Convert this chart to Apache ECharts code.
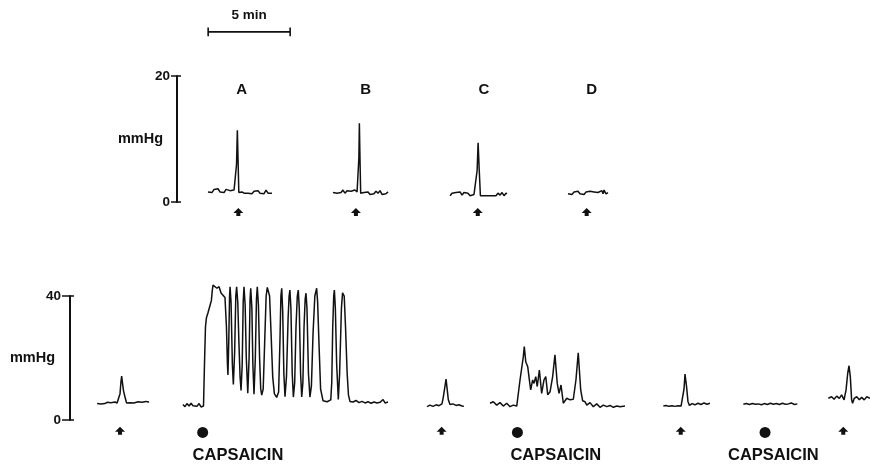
<!DOCTYPE html>
<html>
<head>
<meta charset="utf-8">
<script src="https://cdn.jsdelivr.net/npm/echarts@6/dist/echarts.min.js"></script>
<style>
html,body{margin:0;padding:0;background:#fff;}
#chart{width:870px;height:466px;}
</style>
</head>
<body>
<div id="chart"></div>
<script>
// ---------- DATA (time in minutes, pressure in mmHg) ----------
// Top panel: responses A-D (0-20 mmHg)
const traceA = [[1.89,1.6],[2.01,1.9],[2.13,1.5],[2.26,2.0],[2.38,1.7],[2.50,2.1],[2.62,1.6],[2.74,1.9],[2.87,1.5],[2.99,2.0],[3.11,1.7],[3.23,1.8],[3.35,1.5],[3.48,1.9],[3.57,1.7],[3.63,6.0],[3.68,11.4],[3.72,7.0],[3.77,1.5],[3.84,1.3],[3.96,1.6],[4.09,1.4],[4.21,1.7],[4.33,1.4],[4.45,1.6],[4.57,1.3],[4.70,1.7],[4.82,1.4],[4.94,1.8],[5.06,1.4],[5.18,1.6],[5.30,1.3],[5.43,1.9],[5.55,1.4],[5.67,1.7],[5.79,1.4]];
const traceB = [[9.51,1.5],[9.63,1.8],[9.76,1.4],[9.88,1.7],[10.00,1.5],[10.12,1.9],[10.24,1.4],[10.37,1.8],[10.49,1.5],[10.61,1.7],[10.73,1.4],[10.85,1.9],[10.98,1.6],[11.05,1.8],[11.09,7.0],[11.12,12.5],[11.16,6.5],[11.20,1.4],[11.28,1.2],[11.40,1.5],[11.52,1.3],[11.65,1.6],[11.77,1.2],[11.89,1.5],[12.01,1.3],[12.13,1.7],[12.26,1.4],[12.38,1.8],[12.50,1.2],[12.62,1.5],[12.74,1.3],[12.87,1.6]];
const traceC = [[16.65,1.0],[16.77,1.4],[16.89,1.1],[17.01,1.5],[17.13,1.2],[17.26,1.6],[17.38,1.1],[17.50,1.5],[17.62,1.2],[17.74,1.4],[17.87,1.0],[17.99,1.3],[18.11,1.2],[18.21,1.3],[18.30,5.0],[18.36,9.4],[18.43,5.0],[18.50,1.0],[18.60,1.1],[18.72,1.0],[18.84,1.1],[18.96,1.0],[19.08,1.2],[19.21,1.0],[19.33,1.3],[19.45,1.0],[19.57,1.4],[19.70,1.1],[19.82,1.5],[19.94,1.0],[20.06,1.4],[20.12,1.3]];
const traceD = [[23.84,1.3],[23.96,1.6],[24.08,1.2],[24.21,1.6],[24.33,1.3],[24.45,1.7],[24.57,1.3],[24.69,1.6],[24.82,1.2],[24.94,1.6],[25.06,1.3],[25.18,1.7],[25.30,1.4],[25.43,1.6],[25.55,1.3],[25.67,1.5],[25.79,1.4],[25.91,1.8],[25.98,1.3],[26.04,1.9],[26.16,1.3],[26.28,1.5]];
const topLetters = ['A','B','C','D'];
const topLetterX = [3.95, 11.51, 18.72, 25.29];
const topLetterY = 17.8;
const topArrowX = [3.74, 10.91, 18.34, 24.98];
const topArrowY = -1.6;
const scaleBarStart = 1.9;   // min
const scaleBarLength = 5;    // min
const scaleBarY = 27.0;      // mmHg (drawn above the top axis)
const scaleBarCap = 0.7;
const scaleBarText = '5 min';
const scaleTextY = 29.7;

// Bottom panel (0-40 mmHg)
const trace1 = [[1.65,5.3],[1.77,5.6],[1.89,5.2],[2.01,5.5],[2.13,5.3],[2.26,5.7],[2.38,5.4],[2.50,5.6],[2.62,5.4],[2.74,5.8],[2.87,5.5],[2.99,6.0],[3.05,8.5],[3.11,12.5],[3.15,14.2],[3.20,12.0],[3.26,9.5],[3.35,7.5],[3.45,5.5],[3.54,5.2],[3.66,5.6],[3.78,5.1],[3.90,5.5],[4.02,5.3],[4.15,5.9],[4.27,5.4],[4.39,5.7],[4.51,5.5],[4.63,6.0],[4.76,5.8],[4.82,5.9]];
const trace2 = [[6.89,5.0],[7.01,4.3],[7.13,5.3],[7.26,4.5],[7.38,5.4],[7.50,4.6],[7.62,5.2],[7.74,4.4],[7.87,5.3],[7.99,4.2],[8.14,4.5],
 [8.20,18],[8.26,30],[8.32,33],[8.41,34.5],[8.54,37],[8.62,38.5],[8.68,42],[8.72,43.5],[8.84,43],[8.96,42.5],[9.09,43],[9.21,41],[9.33,41.5],[9.45,39.5],[9.54,30],[9.60,18],[9.63,14.5],
 [9.68,25],[9.73,40],[9.76,43],[9.82,38],[9.90,18],[9.96,11.5],
 [10.04,22],[10.11,40],[10.16,43],[10.23,38],[10.30,25],[10.37,14],[10.43,9.5],
 [10.50,18],[10.56,38],[10.61,43],[10.68,37],[10.75,20],[10.84,8.6],
 [10.92,20],[10.98,39],[11.02,42.5],[11.09,36],[11.15,18],[11.22,8.3],
 [11.30,20],[11.37,39],[11.42,43],[11.49,37],[11.56,20],[11.63,10],[11.69,8.0],
 [11.78,10],[11.87,25],[11.96,40],[12.03,42.8],[12.09,43],[12.17,40],[12.26,28],[12.36,14],[12.46,8.5],[12.60,7.3],
 [12.72,9],[12.80,25],[12.86,40],[12.91,42.5],[12.97,35],[13.04,15],[13.11,7.5],
 [13.20,14],[13.30,33],[13.36,40],[13.41,41.9],[13.47,36],[13.55,15],[13.62,7.4],
 [13.70,12],[13.78,30],[13.86,40],[13.92,41.9],[13.98,36],[14.06,15],[14.13,7.4],
 [14.20,12],[14.27,30],[14.34,39],[14.39,40.9],[14.45,36],[14.54,15],[14.63,7.4],
 [14.72,11],[14.82,28],[14.93,40],[15.04,42.5],[15.10,38],[15.18,25],[15.28,10],[15.43,6.2],[15.55,6.6],[15.68,5.9],[15.80,6.4],[15.90,6.5],
 [15.96,12],[16.02,30],[16.08,40],[16.12,41.9],[16.18,36],[16.26,18],[16.36,6.6],
 [16.44,15],[16.55,36],[16.62,41],[16.66,41.4],[16.72,40],[16.80,30],[16.90,15],[16.98,8],[17.07,6.0],
 [17.26,5.8],[17.44,6.3],[17.62,5.6],[17.80,6.0],[17.99,5.5],[18.17,5.9],[18.35,5.4],[18.54,5.8],[18.72,5.5],[18.90,5.7],[19.09,6.6],[19.21,5.5],[19.39,5.8]];
const trace3 = [[21.77,4.3],[21.95,4.8],[22.13,4.4],[22.32,4.9],[22.50,4.6],[22.68,5.2],[22.76,7.3],[22.93,13.2],[23.07,6.5],[23.17,5.0],[23.35,5.2],[23.54,4.7],[23.72,4.9],[23.90,4.5],[24.02,4.4]];
const trace4 = [[25.61,5.4],[25.81,5.9],[26.02,4.8],[26.22,5.6],[26.42,4.5],[26.63,5.4],[26.83,4.3],[27.03,4.8],[27.24,4.5],[27.44,12.9],[27.64,20.4],[27.70,23.7],[27.79,18.8],[27.91,17.2],[28.01,12.9],[28.09,9.7],[28.21,12.9],[28.29,11.8],[28.40,14.0],[28.49,10.8],[28.62,16.1],[28.76,8.6],[28.90,12.9],[29.01,14.0],[29.13,8.1],[29.27,9.1],[29.43,14.0],[29.57,21.0],[29.71,11.8],[29.82,8.6],[29.94,11.3],[30.08,5.4],[30.29,7.0],[30.49,6.5],[30.69,6.7],[30.85,12.9],[30.99,21.7],[31.14,9.7],[31.26,6.2],[31.40,5.9],[31.51,4.8],[31.71,5.6],[31.91,4.3],[32.12,5.2],[32.32,4.1],[32.52,4.8],[32.73,4.3],[32.93,4.7],[33.13,4.1],[33.34,4.5],[33.54,4.3],[33.84,4.5]];
const trace5 = [[36.18,4.5],[36.34,4.7],[36.52,4.4],[36.71,4.6],[36.89,4.4],[37.07,4.6],[37.26,4.5],[37.38,5.0],[37.44,10],[37.50,14.8],[37.59,11],[37.68,6],[37.77,4.7],[37.93,5.3],[38.11,4.9],[38.29,5.4],[38.48,5.0],[38.66,5.5],[38.84,5.1],[39.02,5.4]];
const trace6 = [[41.06,5.1],[41.24,5.3],[41.43,5.0],[41.61,5.3],[41.79,5.1],[41.97,5.2],[42.16,4.9],[42.34,5.3],[42.52,5.0],[42.71,5.4],[42.89,5.1],[43.07,5.3],[43.25,5.0],[43.44,5.4],[43.62,5.1],[43.80,5.2],[43.98,5.5],[44.17,5.0],[44.35,5.2]];
const trace7 = [[46.24,7.0],[46.44,7.5],[46.59,6.7],[46.75,7.7],[46.91,7.0],[47.05,8.1],[47.20,6.5],[47.32,9.7],[47.42,15.0],[47.50,17.5],[47.58,14.0],[47.66,6.5],[47.72,5.4],[47.82,7.0],[47.97,7.5],[48.13,6.5],[48.27,7.3],[48.43,6.5],[48.58,7.5],[48.78,7.0]];
const bottomArrowX = [3.05, 22.66, 37.24, 47.15];
const bottomArrowY = -3.5;
const dotX = [8.09, 27.28, 42.38];
const dotY = -4.0;
const capsLabel = 'CAPSAICIN';
const capsX = [10.24, 29.62, 42.89];
const capsY = -11.3;
const unitLabel = 'mmHg';

// ---------- CHART ----------
const INK = '#111';
const FONT = 'Liberation Sans, Arial, Helvetica, sans-serif';
const PX_PER_MIN = 16.4;
const TOP_XMAX = 42, BOT_XMAX = 48.8;
const ARROW = 'path://M5,0 L10,5 L7,5 L7,8 L3,8 L3,5 L0,5 Z';

function traceSeries(data, gi) {
  return { type: 'line', data: data, xAxisIndex: gi, yAxisIndex: gi * 2,
    showSymbol: false, symbol: 'none', clip: false, silent: true,
    lineStyle: { color: INK, width: 1.5 } };
}
function yAxes(gi, max) {
  return [
    { type: 'value', gridIndex: gi, position: 'left', min: 0, max: max, interval: max,
      name: unitLabel, nameLocation: 'middle', nameRotate: 0, nameGap: gi === 0 ? 14 : 15,
      nameMoveOverlap: false,
      nameTextStyle: { color: INK, fontFamily: FONT, fontWeight: 'bold', fontSize: 14.5 },
      axisLine: { show: true, lineStyle: { color: INK, width: 2 } },
      axisTick: { show: true, length: gi === 0 ? 6 : 8, lineStyle: { color: INK, width: 1.5 } },
      axisLabel: { color: INK, fontFamily: FONT, fontWeight: 'bold', fontSize: 13.5, margin: gi === 0 ? 7 : 9 },
      splitLine: { show: false } },
    { type: 'value', gridIndex: gi, position: 'left', offset: 0, min: 0, max: max, interval: max,
      axisLine: { show: false }, axisLabel: { show: false }, splitLine: { show: false },
      axisTick: { show: true, inside: true, length: 4, lineStyle: { color: INK, width: 1.5 } } }
  ];
}
const solid = { color: INK, opacity: 1 };
const textStyle = (size) => ({ show: true, position: 'inside', formatter: '{b}', color: INK, opacity: 1,
  fontFamily: FONT, fontWeight: 'bold', fontSize: size });

const series = [
  traceSeries(traceA, 0), traceSeries(traceB, 0), traceSeries(traceC, 0), traceSeries(traceD, 0),
  traceSeries(trace1, 1), traceSeries(trace2, 1), traceSeries(trace3, 1), traceSeries(trace4, 1),
  traceSeries(trace5, 1), traceSeries(trace6, 1), traceSeries(trace7, 1),
  // scale bar (5 min)
  { type: 'line', xAxisIndex: 0, yAxisIndex: 0, clip: false, showSymbol: false, symbol: 'none', silent: true,
    lineStyle: { color: INK, width: 1.6 },
    data: [[scaleBarStart, scaleBarY + scaleBarCap], [scaleBarStart, scaleBarY - scaleBarCap], [scaleBarStart, scaleBarY],
           [scaleBarStart + scaleBarLength, scaleBarY], [scaleBarStart + scaleBarLength, scaleBarY + scaleBarCap],
           [scaleBarStart + scaleBarLength, scaleBarY - scaleBarCap]] },
  { type: 'scatter', xAxisIndex: 0, yAxisIndex: 0, clip: false, symbolSize: 0, silent: true, itemStyle: solid,
    data: [{ name: scaleBarText, value: [scaleBarStart + scaleBarLength / 2, scaleTextY] }],
    label: textStyle(13.5) },
  // letters A-D
  { type: 'scatter', xAxisIndex: 0, yAxisIndex: 0, clip: false, symbolSize: 0, silent: true, itemStyle: solid,
    data: topLetters.map((l, i) => ({ name: l, value: [topLetterX[i], topLetterY] })),
    label: textStyle(15) },
  // top arrows
  { type: 'scatter', xAxisIndex: 0, yAxisIndex: 0, clip: false, silent: true,
    symbol: ARROW, symbolSize: [10, 8], itemStyle: solid,
    data: topArrowX.map(x => [x, topArrowY]) },
  // bottom arrows
  { type: 'scatter', xAxisIndex: 1, yAxisIndex: 2, clip: false, silent: true,
    symbol: ARROW, symbolSize: [10, 8], itemStyle: solid,
    data: bottomArrowX.map(x => [x, bottomArrowY]) },
  // capsaicin dots
  { type: 'scatter', xAxisIndex: 1, yAxisIndex: 2, clip: false, silent: true,
    symbol: 'circle', symbolSize: 11, itemStyle: solid,
    data: dotX.map(x => [x, dotY]) },
  // capsaicin labels
  { type: 'scatter', xAxisIndex: 1, yAxisIndex: 2, clip: false, symbolSize: 0, silent: true, itemStyle: solid,
    data: capsX.map(x => ({ name: capsLabel, value: [x, capsY] })),
    label: textStyle(16.5) }
];

const chart = echarts.init(document.getElementById('chart'), null, { renderer: 'canvas' });
chart.setOption({
  animation: false,
  backgroundColor: '#fff',
  grid: [
    { left: 177, top: 76, height: 126, width: TOP_XMAX * PX_PER_MIN, outerBoundsMode: 'none', containLabel: false },
    { left: 70, top: 296, height: 124, width: BOT_XMAX * PX_PER_MIN, outerBoundsMode: 'none', containLabel: false }
  ],
  xAxis: [
    { type: 'value', gridIndex: 0, min: 0, max: TOP_XMAX, show: false },
    { type: 'value', gridIndex: 1, min: 0, max: BOT_XMAX, show: false }
  ],
  yAxis: yAxes(0, 20).concat(yAxes(1, 40)),
  series: series
});
</script>
</body>
</html>
